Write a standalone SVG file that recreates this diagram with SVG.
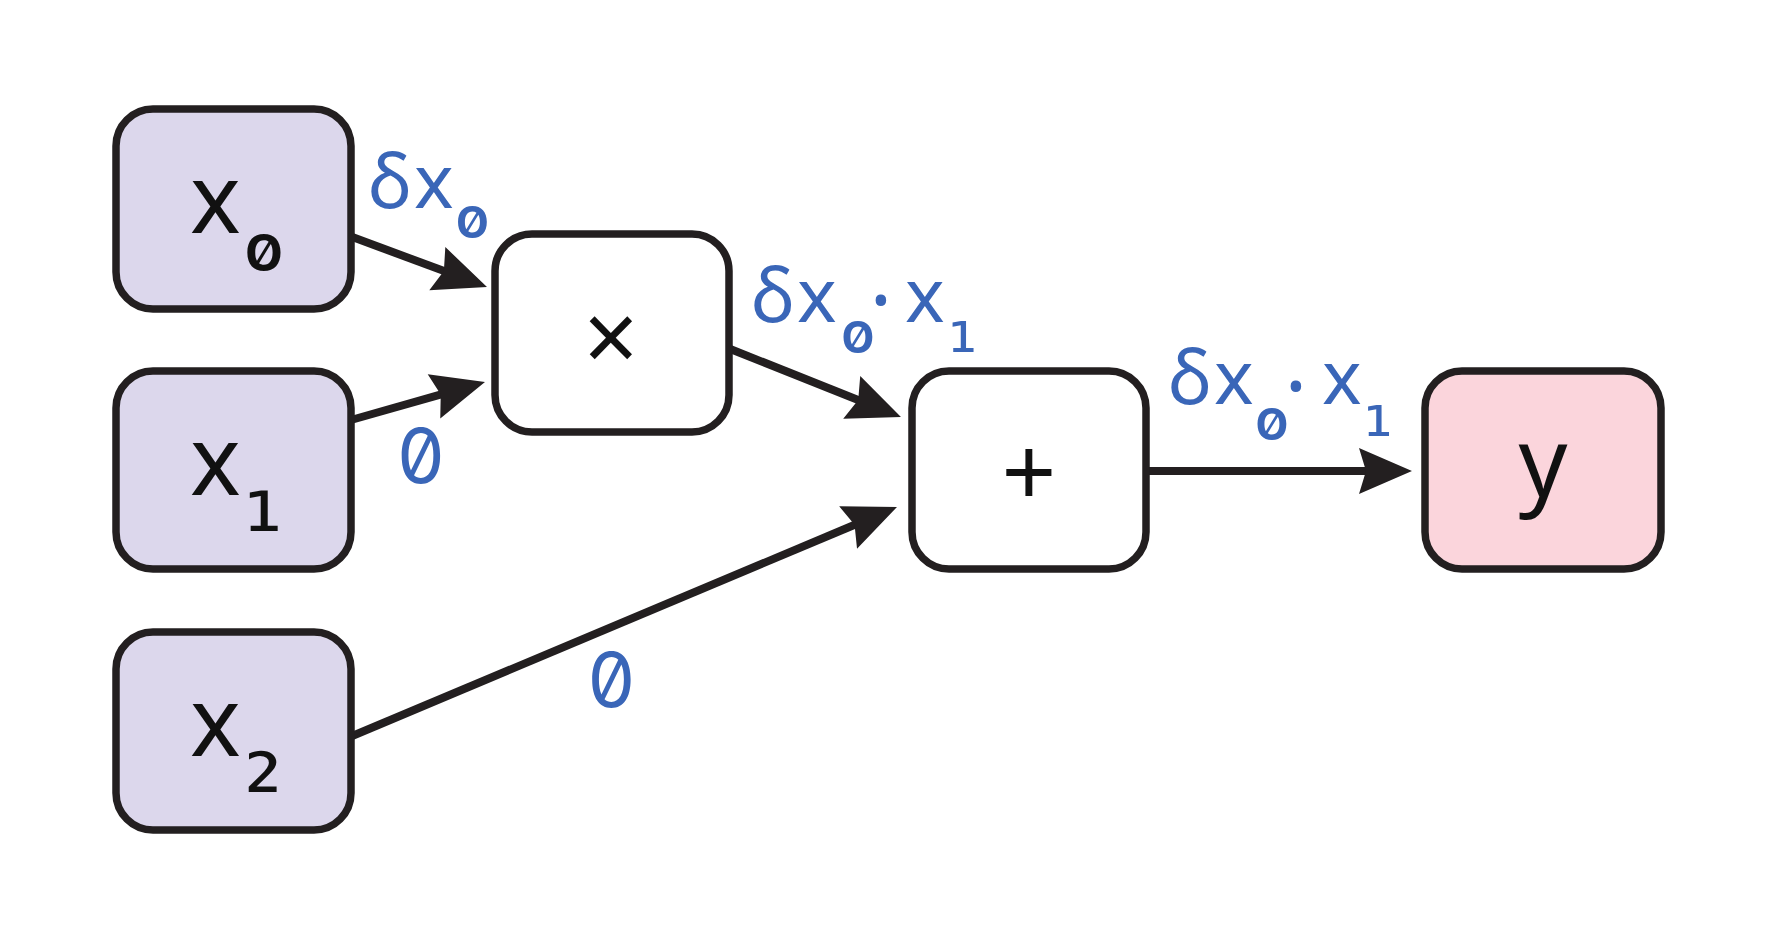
<svg xmlns="http://www.w3.org/2000/svg" width="1768" height="940" viewBox="0 0 1768 940">
<style>
.box{stroke:#231f20;stroke-width:7.5}
.in{fill:#dcd7ec}
.out{fill:#fbd5dc}
.op{fill:#ffffff}
.edge{fill:none;stroke:#231f20;stroke-width:8;marker-end:url(#ah)}
.m{font-family:"Noto Sans","Open Sans",sans-serif;fill:#111111}
.big{font-size:96px}
.lbl{font-family:"Noto Sans","Open Sans",sans-serif;font-size:75px;fill:#3a66b8}
.z{font-family:Inter,sans-serif;font-feature-settings:"zero" 1}
.d{font-family:"DejaVu Sans Mono",monospace}
</style>
<defs>
<marker id="ah" markerUnits="userSpaceOnUse" viewBox="-20 -30 70 60" markerWidth="70" markerHeight="60" refX="0" refY="0" orient="auto">
<path d="M40,0 L-13,-23 L-6,0 L-13,23 Z" fill="#231f20"/>
</marker>
</defs>
<rect width="1768" height="940" fill="#ffffff"/>
<g id="connectors">
<path class="edge" d="M351,236.5 L449.5,273.1"/>
<path class="edge" d="M351,420 L446.5,392.9"/>
<path class="edge" d="M729,348.5 L863.8,402.2"/>
<path class="edge" d="M1146,471 L1372,471"/>
<path class="edge" d="M351,736.5 L860.1,522.5"/>
</g>
<g id="edge-labels">
<text class="lbl"><tspan x="368" y="208">δ</tspan><tspan x="414" y="208">x</tspan><tspan class="z" x="472.5" y="225.5" font-size="78" text-anchor="middle">₀</tspan></text>
<text class="lbl z" x="421" y="483" font-size="69" text-anchor="middle">0</text>
<text class="lbl z" x="611.5" y="707" font-size="69" text-anchor="middle">0</text>
<text class="lbl"><tspan x="751" y="322">δ</tspan><tspan x="797" y="322">x</tspan><tspan class="z" x="858" y="340.5" font-size="78" text-anchor="middle">₀</tspan><tspan x="881" y="331" font-size="85" text-anchor="middle">·</tspan><tspan x="905" y="322">x</tspan><tspan class="d" x="962.5" y="352" font-size="75" text-anchor="middle">₁</tspan></text>
<text class="lbl"><tspan x="1168" y="404">δ</tspan><tspan x="1214" y="404">x</tspan><tspan class="z" x="1272" y="427.5" font-size="78" text-anchor="middle">₀</tspan><tspan x="1296" y="417" font-size="85" text-anchor="middle">·</tspan><tspan x="1322" y="404">x</tspan><tspan class="d" x="1378" y="436" font-size="75" text-anchor="middle">₁</tspan></text>
</g>
<g id="x0">
<rect class="box in" x="116" y="109" width="235" height="200" rx="37"/>
<text class="m big"><tspan x="190" y="233">x</tspan><tspan class="z" x="264" y="257" font-size="90" text-anchor="middle">₀</tspan></text>
</g>
<g id="x1">
<rect class="box in" x="116" y="371" width="235" height="198" rx="37"/>
<text class="m big"><tspan x="190" y="495">x</tspan><tspan class="d" x="263" y="531" font-size="100" text-anchor="middle">₁</tspan></text>
</g>
<g id="x2">
<rect class="box in" x="116" y="632" width="235" height="198" rx="37"/>
<text class="m big"><tspan x="190" y="756">x</tspan><tspan class="d" x="263" y="792" font-size="100" text-anchor="middle">₂</tspan></text>
</g>
<g id="mul">
<rect class="box op" x="495" y="234" width="234" height="198" rx="37"/>
<text class="m big" x="611" y="372" text-anchor="middle">×</text>
</g>
<g id="add">
<rect class="box op" x="912" y="371" width="234" height="198" rx="37"/>
<text class="m big" x="1029" y="507" text-anchor="middle">+</text>
</g>
<g id="y">
<rect class="box out" x="1425" y="371" width="236" height="198" rx="37"/>
<text class="m big" x="1543" y="497" text-anchor="middle">y</text>
</g>
</svg>
